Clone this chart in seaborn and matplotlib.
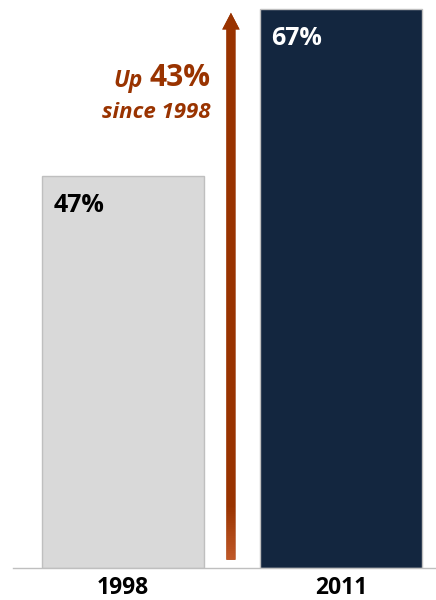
import numpy as np
import pandas as pd
import seaborn as sns
import matplotlib.pyplot as plt
from matplotlib.patches import FancyArrowPatch
from matplotlib.colors import LinearSegmentedColormap

years = ["1998", "2011"]
shares = [47, 67]
bar_colors = ["#d9d9d9", "#13263f"]
label_colors = ["#000000", "#ffffff"]
growth = "43%"

sns.set_theme(style="white")
plt.rcParams['font.family'] = ['Open Sans', 'DejaVu Sans']

fig = plt.figure(figsize=(4.36, 6), dpi=100)
ax = fig.add_axes([13 / 436, 32.5 / 600, 423 / 436, 567.5 / 600])

df = pd.DataFrame({"year": years, "share": shares})
sns.barplot(data=df, x="year", y="share", hue="year", palette=bar_colors,
            width=0.743, legend=False, ax=ax, saturation=1)
for p in ax.patches:
    p.set_edgecolor("#bfbfbf")
    p.set_linewidth(1)

ax.set_xlabel("")
ax.set_ylabel("")
ax.set_yticks([])
for s in ["top", "left", "right"]:
    ax.spines[s].set_visible(False)
ax.spines["bottom"].set_color("#bfbfbf")
ax.spines["bottom"].set_linewidth(1)
ax.tick_params(axis="x", length=0, pad=6)
for t in ax.get_xticklabels():
    t.set_fontsize(16.5)
    t.set_fontweight("bold")
    t.set_color("#000000")

# value labels, top-left inside each bar
for i, (v, c) in enumerate(zip(shares, label_colors)):
    ax.annotate(f"{v}%", xy=(i - 0.3715, v), xytext=(8, -26),
                textcoords="offset points", ha="left", va="baseline",
                fontsize=18, fontweight="bold", color=c)

# growth arrow, lighter at its foot
orange = "#993300"
arrow = FancyArrowPatch((0.495, 0.6), (0.495, 66.9),
                        arrowstyle="simple,head_width=12.5,head_length=12,tail_width=6.5",
                        mutation_scale=1, color=orange, lw=0)
ax.add_patch(arrow)
cmap = LinearSegmentedColormap.from_list(
    "fade", [(0, "#c25a2a"), (0.1, orange), (1, orange)])
grad = np.linspace(0, 1, 512).reshape(-1, 1)
img = ax.imshow(grad, cmap=cmap, origin="lower", aspect="auto",
                extent=(0.4, 0.6, 0.6, 67.5), zorder=3)
img.set_clip_path(arrow)
ax.set_xlim(-0.505, 1.436)
ax.set_ylim(0, 68.1)

big = ax.text(0.403, 57.8, growth, ha="right", va="baseline",
              fontsize=21.5, fontweight="bold", color=orange)
ax.annotate("Up", xy=(0, 0), xycoords=big, xytext=(-5, 0),
            textcoords="offset points", ha="right", va="bottom",
            fontsize=16.5, fontweight="bold", style="italic", color=orange)
ax.text(0.403, 53.9, "since 1998", ha="right", va="baseline",
        fontsize=16, fontweight="bold", style="italic", color=orange)

fig.savefig("out.png", dpi=100)
